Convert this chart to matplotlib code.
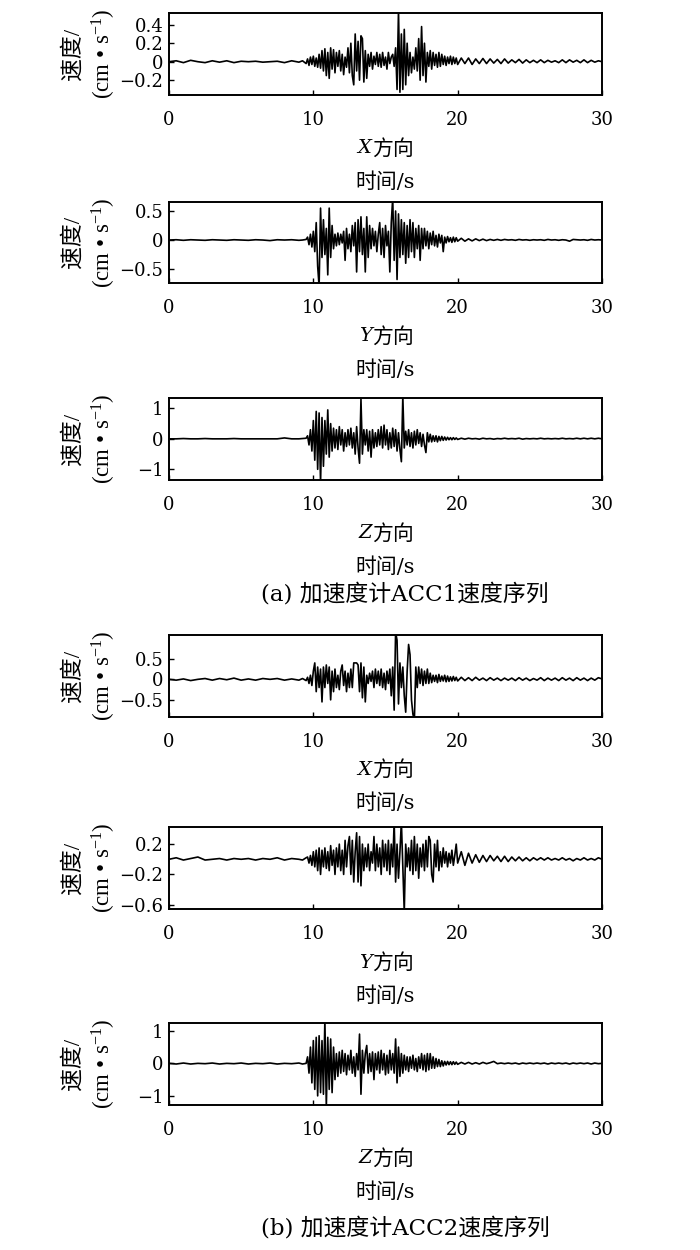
"""
Velocity series recorded by accelerometers ACC1 and ACC2 (X, Y, Z directions),
redrawn as six stacked panels with two captions.
"""

import matplotlib

matplotlib.use("Agg")
import matplotlib.pyplot as plt
import matplotlib.transforms as mtransforms
from matplotlib.ticker import FuncFormatter

plt.rcParams["font.family"] = ["DejaVu Serif", "Noto Sans CJK SC"]
plt.rcParams["mathtext.fontset"] = "custom"
plt.rcParams["mathtext.rm"] = "Liberation Serif"
plt.rcParams["mathtext.it"] = "Liberation Serif:italic"
plt.rcParams["axes.unicode_minus"] = True

# sample times (s): coarse before the event, dense during it, medium after
TIME = [
    0.0, 0.5, 1.0, 1.5, 2.0, 2.5, 3.0, 3.5, 4.0, 4.5, 5.0, 5.5, 6.0, 6.5,
    7.0, 7.5, 8.0, 8.5, 9.0, 9.25, 9.5,
    9.6, 9.7, 9.8, 9.9, 10.0, 10.1, 10.2, 10.3, 10.4, 10.5,
    10.6, 10.7, 10.8, 10.9, 11.0, 11.1, 11.2, 11.3, 11.4, 11.5,
    11.6, 11.7, 11.8, 11.9, 12.0, 12.1, 12.2, 12.3, 12.4, 12.5,
    12.6, 12.7, 12.8, 12.9, 13.0, 13.1, 13.2, 13.3, 13.4, 13.5,
    13.6, 13.7, 13.8, 13.9, 14.0, 14.1, 14.2, 14.3, 14.4, 14.5,
    14.6, 14.7, 14.8, 14.9, 15.0, 15.1, 15.2, 15.3, 15.4, 15.5,
    15.6, 15.7, 15.8, 15.9, 16.0, 16.1, 16.2, 16.3, 16.4, 16.5,
    16.6, 16.7, 16.8, 16.9, 17.0, 17.1, 17.2, 17.3, 17.4, 17.5,
    17.6, 17.7, 17.8, 17.9, 18.0, 18.1, 18.2, 18.3, 18.4, 18.5,
    18.6, 18.7, 18.8, 18.9, 19.0, 19.1, 19.2, 19.3, 19.4, 19.5,
    19.6, 19.7, 19.8, 19.9, 20.0,
    20.25, 20.5, 20.75, 21.0, 21.25, 21.5, 21.75, 22.0, 22.25, 22.5,
    22.75, 23.0, 23.25, 23.5, 23.75, 24.0, 24.25, 24.5, 24.75, 25.0,
    25.25, 25.5, 25.75, 26.0, 26.25, 26.5, 26.75, 27.0, 27.25, 27.5,
    27.75, 28.0, 28.25, 28.5, 28.75, 29.0, 29.25, 29.5, 29.75, 30.0,
]

# ---- ACC1 -----------------------------------------------------------------
ACC1_X = [
    0.0, 0.01, -0.01, 0.015, 0.0, -0.01, 0.01, -0.005, 0.01, -0.01, 0.005,
    0.0, 0.005, -0.005, 0.0, 0.005, -0.01, 0.01, -0.005, 0.01, -0.02,
    0.03, -0.04, 0.05, -0.03, 0.06, -0.05, 0.04, -0.06, 0.08, -0.07,
    0.12, -0.1, 0.14, -0.15, 0.1, -0.18, 0.15, -0.08, 0.13, -0.12,
    0.1, -0.05, 0.12, -0.1, 0.08, -0.14, 0.05, -0.06, 0.15, -0.12,
    0.2, -0.15, -0.25, 0.3, -0.1, 0.22, -0.2, 0.28, 0.25, -0.22,
    0.12, -0.18, 0.08, -0.05, 0.1, -0.08, 0.06, -0.03, 0.1, -0.05,
    0.08, -0.06, 0.1, -0.04, 0.05, -0.08, 0.1, -0.02, 0.05, 0.08,
    -0.05, 0.15, -0.3, 0.56, -0.33, 0.3, -0.3, 0.35, -0.25, 0.2,
    -0.15, 0.1, -0.12, 0.05, -0.08, 0.15, -0.1, 0.25, -0.2, 0.38,
    -0.15, 0.2, -0.22, 0.1, -0.05, 0.12, -0.08, 0.1, -0.04, 0.08,
    -0.06, 0.1, -0.05, 0.08, -0.03, 0.06, -0.04, 0.05, -0.02, 0.06,
    -0.03, 0.05, -0.02, 0.04, -0.03,
    0.04, -0.02, 0.04, -0.03, 0.03, -0.02, 0.035, -0.02, 0.03, -0.015,
    0.025, -0.02, 0.03, -0.015, 0.02, -0.01, 0.025, -0.015, 0.02, -0.01,
    0.015, -0.01, 0.02, -0.01, 0.015, -0.005, 0.01, -0.01, 0.02, -0.01,
    0.02, -0.005, 0.015, -0.01, 0.02, -0.01, 0.015, -0.005, 0.01, 0.0,
]
ACC1_Y = [
    0.0, 0.005, -0.005, 0.005, 0.0, -0.005, 0.005, 0.0, -0.005, 0.005, 0.0,
    -0.005, 0.005, 0.0, -0.01, 0.005, 0.0, 0.005, -0.005, 0.0, 0.01,
    0.05, -0.08, 0.1, -0.12, 0.15, -0.2, 0.3, -0.45, -0.8, 0.55,
    -0.3, 0.35, -0.25, 0.2, -0.6, 0.55, -0.3, 0.25, -0.15, 0.1,
    -0.1, 0.12, -0.08, 0.1, -0.05, 0.15, -0.35, 0.2, -0.15, 0.1,
    -0.2, 0.25, -0.1, 0.3, -0.55, 0.35, -0.2, 0.4, -0.25, 0.2,
    -0.55, 0.4, -0.3, 0.25, -0.15, 0.2, -0.1, 0.15, -0.2, 0.1,
    0.3, -0.25, 0.2, -0.3, 0.25, -0.1, 0.15, -0.55, 0.3, 0.72,
    -0.35, 0.5, -0.68, 0.45, -0.3, 0.35, -0.25, 0.3, -0.4, 0.25,
    -0.3, 0.35, -0.2, 0.3, -0.3, 0.2, -0.15, 0.25, -0.35, 0.2,
    -0.15, 0.2, -0.1, 0.15, -0.15, 0.12, -0.08, 0.15, -0.1, 0.08,
    -0.12, 0.1, -0.05, 0.08, -0.2, 0.05, -0.05, 0.06, -0.03, 0.04,
    -0.04, 0.05, -0.03, 0.04, -0.02,
    0.03, -0.02, 0.02, -0.015, 0.02, -0.01, 0.015, -0.01, 0.01, -0.005,
    0.01, -0.005, 0.01, 0.0, 0.005, -0.005, 0.01, 0.0, 0.005, -0.005,
    0.005, 0.0, 0.005, -0.005, 0.01, 0.0, 0.005, -0.005, 0.005, 0.0,
    -0.02, 0.01, 0.005, 0.0, 0.005, -0.005, 0.01, 0.0, 0.005, 0.0,
]
ACC1_Z = [
    0.0, 0.0, 0.01, 0.0, 0.0, 0.01, 0.0, 0.0, 0.0, 0.01, 0.0,
    0.0, 0.0, 0.0, 0.0, 0.0, 0.03, 0.0, 0.0, 0.01, 0.02,
    0.1, -0.2, 0.3, -0.4, 0.6, -0.7, 0.9, -1.0, 0.85, -1.45,
    0.7, -0.9, 0.6, -0.5, 0.95, -0.6, 0.5, -0.4, 0.35, -0.3,
    0.3, -0.35, 0.4, -0.2, 0.3, -0.4, 0.2, -0.25, 0.3, -0.2,
    0.35, -0.3, 0.2, -0.5, 0.4, -0.3, -0.8, 1.3, -0.5, 0.3,
    -0.2, 0.3, -0.4, 0.25, -0.6, 0.3, -0.3, 0.2, -0.25, 0.3,
    -0.2, 0.4, -0.3, 0.45, -0.2, 0.3, -0.35, 0.2, -0.3, 0.35,
    -0.25, 0.3, -0.4, 0.2, -0.35, -0.75, 1.4, -0.3, 0.25, -0.2,
    0.3, -0.25, 0.2, -0.3, 0.25, -0.2, 0.3, -0.15, 0.2, -0.25,
    0.15, -0.2, -0.45, 0.2, -0.1, 0.15, -0.1, 0.1, -0.08, 0.1,
    -0.1, 0.08, -0.06, 0.08, -0.05, 0.06, -0.04, 0.05, -0.03, 0.04,
    -0.03, 0.04, -0.02, 0.03, -0.02,
    0.02, -0.01, 0.02, 0.0, 0.01, -0.01, 0.02, 0.0, 0.01, -0.01,
    0.01, 0.0, 0.02, 0.0, 0.01, 0.0, 0.02, -0.01, 0.01, 0.0,
    0.01, 0.0, 0.02, 0.0, 0.01, 0.0, 0.01, 0.0, 0.02, 0.0,
    0.01, 0.0, 0.02, 0.0, 0.02, 0.0, 0.02, 0.0, 0.02, 0.0,
]

# ---- ACC2 -----------------------------------------------------------------
ACC2_X = [
    0.0, -0.02, 0.01, -0.03, 0.0, 0.02, -0.02, 0.02, -0.01, 0.03, -0.02,
    0.01, -0.02, 0.02, 0.0, 0.02, -0.02, 0.01, -0.02, 0.02, -0.03,
    0.05, -0.1, 0.1, -0.15, 0.2, 0.4, -0.3, 0.3, -0.2, 0.25,
    -0.55, 0.3, -0.2, 0.35, -0.1, 0.3, -0.5, 0.2, -0.3, 0.25,
    -0.2, 0.1, -0.25, 0.2, 0.35, -0.15, 0.2, -0.3, 0.15, -0.2,
    0.25, -0.2, 0.4, 0.4, 0.4, 0.35, -0.3, 0.4, -0.45, 0.3,
    -0.55, 0.1, -0.1, 0.15, -0.05, 0.2, -0.2, 0.25, -0.1, 0.2,
    -0.15, 0.25, -0.2, 0.15, -0.25, 0.2, -0.1, 0.25, -0.4, 0.3,
    -0.75, 1.15, 0.95, -0.6, 0.4, -0.2, 0.3, -0.4, -0.8, 0.2,
    0.85, 0.6, -0.5, -0.85, -1.0, 0.3, -0.2, 0.3, -0.1, 0.25,
    -0.15, 0.2, -0.1, 0.25, -0.1, 0.15, -0.08, 0.1, -0.05, 0.1,
    -0.08, 0.12, -0.05, 0.08, -0.04, 0.1, -0.06, 0.08, -0.05, 0.06,
    -0.04, 0.07, -0.03, 0.05, -0.04,
    0.05, -0.03, 0.04, -0.03, 0.05, -0.02, 0.03, -0.03, 0.04, -0.02,
    0.03, -0.03, 0.03, -0.02, 0.03, -0.03, 0.04, -0.02, 0.03, -0.03,
    0.02, -0.02, 0.04, -0.03, 0.03, -0.02, 0.03, -0.03, 0.04, -0.02,
    0.03, -0.03, 0.04, -0.02, 0.03, -0.03, 0.03, -0.02, 0.04, 0.01,
]
ACC2_Y = [
    0.0, 0.02, -0.01, 0.01, 0.03, -0.01, 0.0, 0.01, -0.01, 0.01, 0.0,
    0.01, -0.01, 0.01, 0.0, 0.02, -0.01, 0.01, 0.0, -0.01, 0.02,
    0.03, -0.05, 0.05, -0.08, 0.1, -0.1, 0.12, -0.15, 0.15, -0.2,
    0.12, -0.1, 0.15, -0.12, 0.1, -0.15, 0.18, -0.08, 0.12, -0.2,
    0.15, -0.1, 0.2, -0.15, 0.12, -0.2, 0.25, -0.1, 0.18, 0.3,
    -0.2, 0.25, -0.3, 0.1, 0.35, -0.3, 0.3, -0.35, 0.2, -0.15,
    0.15, -0.1, 0.2, -0.15, 0.1, -0.05, 0.3, -0.15, 0.2, -0.1,
    0.15, -0.2, 0.25, -0.1, 0.2, -0.15, 0.25, -0.2, 0.2, -0.1,
    0.5, -0.3, 0.2, -0.25, 0.1, 0.5, -0.1, -0.7, 0.2, -0.1,
    0.15, -0.15, 0.25, -0.2, 0.3, -0.15, 0.2, -0.25, 0.15, -0.1,
    0.2, -0.15, 0.25, -0.1, 0.3, 0.25, -0.2, -0.3, 0.2, -0.1,
    0.25, -0.15, 0.1, -0.1, 0.15, -0.05, 0.1, -0.1, 0.08, -0.05,
    0.12, -0.08, 0.05, 0.2, -0.05,
    0.1, -0.08, 0.08, -0.05, 0.06, -0.04, 0.05, -0.03, 0.05, -0.02,
    0.04, -0.03, 0.04, -0.03, 0.03, -0.02, 0.03, -0.02, 0.02, -0.02,
    0.02, -0.01, 0.02, -0.01, 0.02, -0.01, 0.01, -0.01, 0.02, -0.01,
    0.01, -0.02, 0.01, -0.01, 0.02, -0.01, 0.01, -0.01, 0.02, 0.0,
]
ACC2_Z = [
    0.0, -0.02, 0.01, -0.02, 0.0, -0.01, 0.01, -0.02, 0.0, -0.01, 0.01,
    -0.02, 0.0, -0.01, 0.01, -0.02, 0.0, -0.01, 0.01, -0.02, 0.0,
    0.2, -0.3, 0.5, -0.6, 0.7, -0.8, 0.8, -1.0, 0.85, -0.9,
    0.7, -0.95, 1.35, -1.35, 0.8, -0.8, 0.75, -0.9, 0.5, -0.5,
    0.3, -0.4, 0.35, -0.3, 0.4, -0.25, 0.3, -0.35, 0.25, -0.2,
    0.4, -0.3, 0.2, -0.4, 0.3, -0.2, 0.9, -0.95, 0.4, -0.3,
    0.3, 0.55, -0.3, 0.3, -0.25, 0.35, -0.5, 0.3, -0.2, 0.35,
    -0.3, 0.4, -0.2, 0.3, -0.35, 0.25, -0.3, 0.4, -0.2, 0.3,
    -0.3, 0.75, -0.6, 0.5, -0.4, 0.3, -0.3, 0.25, -0.2, 0.2,
    -0.25, 0.2, -0.15, 0.25, -0.2, 0.15, -0.25, 0.2, -0.15, 0.3,
    -0.2, 0.25, -0.25, 0.3, -0.2, 0.3, -0.15, 0.2, -0.15, 0.15,
    -0.1, 0.12, -0.1, 0.08, -0.08, 0.06, -0.05, 0.06, -0.04, 0.05,
    -0.04, 0.05, -0.03, 0.04, -0.03,
    0.03, -0.02, 0.03, -0.02, 0.02, -0.02, 0.03, -0.01, 0.02, 0.06,
    -0.01, 0.01, -0.01, 0.01, -0.01, 0.01, -0.02, 0.01, -0.01, 0.01,
    -0.01, 0.01, -0.01, 0.01, -0.02, 0.01, -0.01, 0.01, -0.01, 0.01,
    -0.02, 0.01, -0.01, 0.01, -0.01, 0.01, -0.02, 0.01, -0.01, 0.0,
]

SERIES = [ACC1_X, ACC1_Y, ACC1_Z, ACC2_X, ACC2_Y, ACC2_Z]
DIRECTIONS = ["X", "Y", "Z", "X", "Y", "Z"]
Y_LIMITS = [(-0.36, 0.53), (-0.74, 0.66), (-1.35, 1.33),
            (-0.91, 1.08), (-0.66, 0.43), (-1.28, 1.25)]
Y_TICKS = [[-0.2, 0, 0.2, 0.4], [-0.5, 0, 0.5], [-1, 0, 1],
           [-0.5, 0, 0.5], [-0.6, -0.2, 0.2], [-1, 0, 1]]
X_TICKS = [0, 10, 20, 30]
CAPTIONS = ["(a) 加速度计ACC1速度序列", "(b) 加速度计ACC2速度序列"]

for s in SERIES:
    assert len(s) == len(TIME), len(s)

W, H = 700, 1250
fig = plt.figure(figsize=(W / 100, H / 100), dpi=100)

# axes boxes in pixels: (top, bottom); all share left/right edges
LEFT, RIGHT = 169, 602
BOXES = [(12.7, 95), (201.7, 283), (398.3, 480),
         (635, 716.7), (826.7, 909.3), (1022.7, 1105)]

TICK_FS = 13
LABEL_FS = 15
YLABEL_FAMILY = ["Liberation Serif", "Noto Sans CJK SC"]
fmt = FuncFormatter(lambda v, _: f"{v:g}".replace("-", "\u2212"))

for i, (top, bot) in enumerate(BOXES):
    ax = fig.add_axes([LEFT / W, 1 - bot / H, (RIGHT - LEFT) / W, (bot - top) / H])
    ax.plot(TIME, SERIES[i], color="black", linewidth=1.2)
    ax.set_xlim(0, 30)
    ax.set_ylim(*Y_LIMITS[i])
    ax.set_xticks(X_TICKS)
    ax.set_yticks(Y_TICKS[i])
    ax.yaxis.set_major_formatter(fmt)
    ax.tick_params(direction="in", length=3.5, width=1.0, labelsize=TICK_FS,
                   top=False, right=False)
    ax.tick_params(axis="x", pad=11.5)
    ax.tick_params(axis="y", pad=4)
    for sp in ax.spines.values():
        sp.set_linewidth(1.4)

    # "X方向": italic letter + CJK word, joined at a point left of centre
    ax.annotate(DIRECTIONS[i], xy=(0.5, 0), xycoords="axes fraction",
                xytext=(-10, -38.5), textcoords="offset points",
                ha="right", va="center", fontsize=LABEL_FS - 1, style="italic")
    ax.annotate("方向", xy=(0.5, 0), xycoords="axes fraction",
                xytext=(-10, -38.5), textcoords="offset points",
                ha="left", va="center", fontsize=LABEL_FS)
    ax.annotate("时间/s", xy=(0.5, 0), xycoords="axes fraction",
                xytext=(0, -62.5), textcoords="offset points",
                ha="center", va="center", fontsize=LABEL_FS)

    # rotated two-line y label at a fixed horizontal position
    trans = mtransforms.blended_transform_factory(fig.transFigure, ax.transAxes)
    ax.text(90 / W, 0.5, "速度/\n(cm • s$^{-1}$)", transform=trans,
            rotation=90, ha="center", va="center", fontsize=16.5,
            family=YLABEL_FAMILY, linespacing=1.3, multialignment="center")

fig.text(405 / W, 1 - 594 / H, CAPTIONS[0], ha="center", va="center", fontsize=16.5)
fig.text(405 / W, 1 - 1228 / H, CAPTIONS[1], ha="center", va="center", fontsize=16.5)

fig.savefig("out.png", dpi=100)
